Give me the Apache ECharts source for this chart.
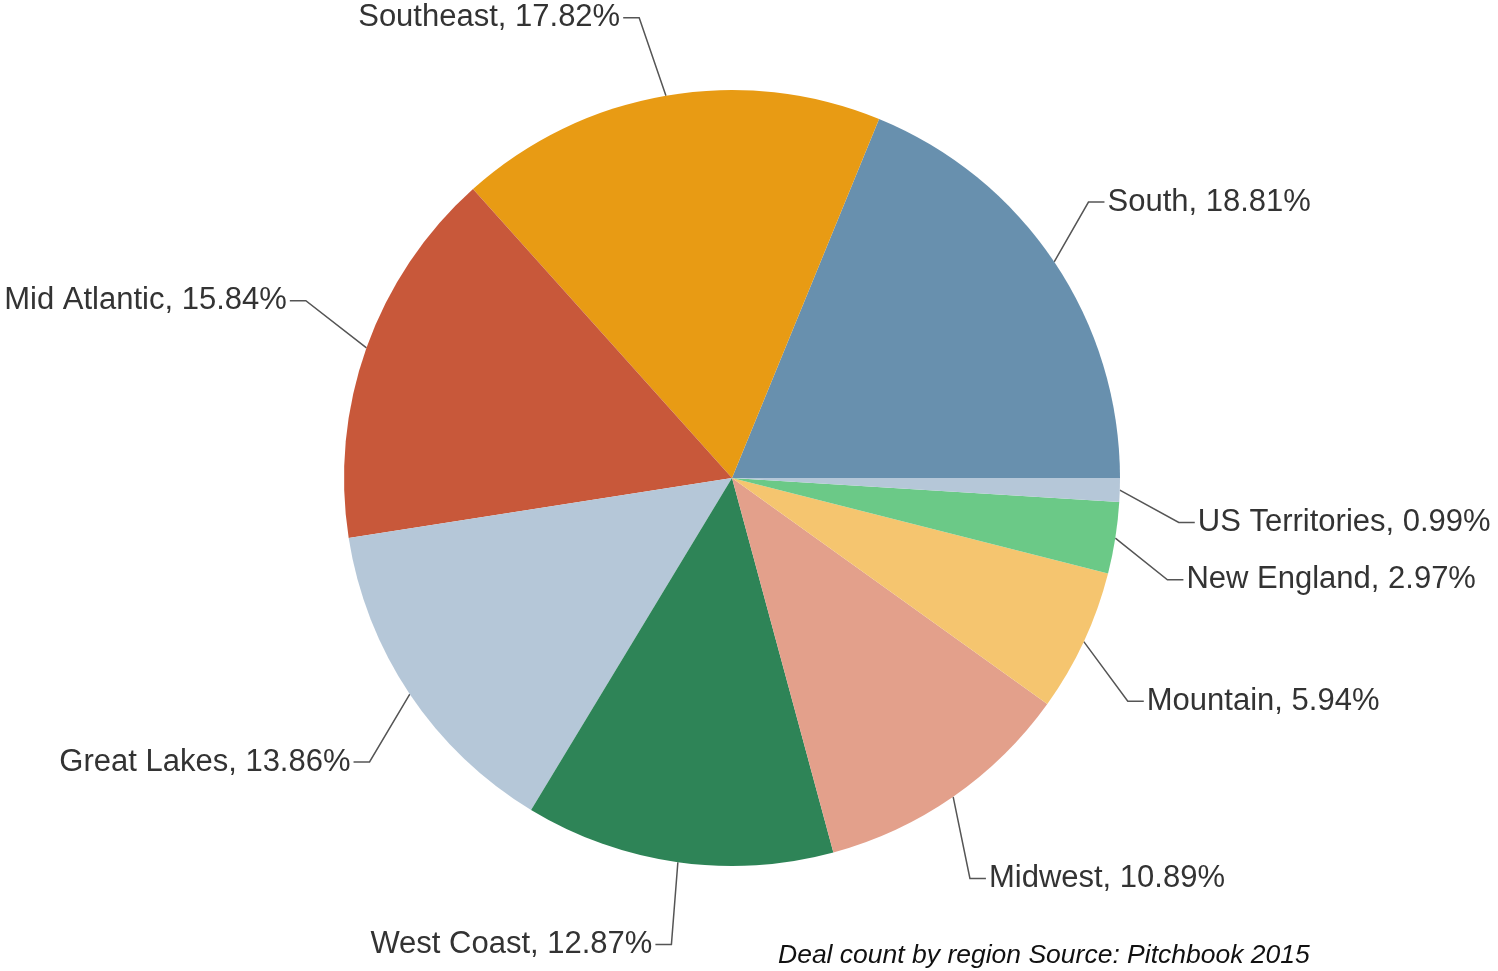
<!DOCTYPE html>
<html>
<head>
<meta charset="utf-8">
<script src="https://cdn.jsdelivr.net/npm/echarts@6/dist/echarts.min.js"></script>
<style>
    html, body { margin: 0; padding: 0; background: #fff; }
    #chart { width: 1498px; height: 971px; }
</style>
</head>
<body>
<div id="chart"></div>
<script>
// deal count share by region (%), counter-clockwise from 3 o'clock
const regions = ["South", "Southeast", "Mid Atlantic", "Great Lakes", "West Coast",
    "Midwest", "Mountain", "New England", "US Territories"];
const shares = [18.81, 17.82, 15.84, 13.86, 12.87, 10.89, 5.94, 2.97, 0.99];
const colors = ["#6890ae", "#e89b14", "#c8583a", "#b5c7d8", "#2e8457",
    "#e3a08b", "#f5c56f", "#6bc987", "#b5c7d8"];
const caption = "Deal count by region Source: Pitchbook 2015";

const chart = echarts.init(document.getElementById("chart"));

// small nudges so labels sit where the original spread them
const labelNudge = [[-28, -18], [-14, -4], [10, -22], [22, 26], [4, 8],
    [-26, 20], [-24, 28], [-22, 30], [-16, 30]];

let seriesData = regions.map((name, i) => {
    return {
        name: name,
        value: shares[i],
        itemStyle: { color: colors[i] }
    };
});

let options = {
    animation: false,
    graphic: [{
        type: "text",
        left: 778,
        top: 942,
        style: {
            text: caption,
            font: "italic 26.5px 'Liberation Sans', Arial, sans-serif",
            fill: "#111"
        }
    }],
    series: [{
        type: "pie",
        center: [732, 478],
        radius: 388,
        startAngle: 0,
        clockwise: false,
        avoidLabelOverlap: false,
        data: seriesData,
        itemStyle: { borderWidth: 0 },
        emphasis: { disabled: true },
        label: {
            show: true,
            formatter: function(p) {
                return p.name + ", " + p.value.toFixed(2) + "%";
            },
            fontFamily: "'Liberation Sans', Arial, sans-serif",
            fontSize: 31,
            color: "#333",
            overflow: "none",
            distanceToLabelLine: 3
        },
        labelLine: {
            show: true,
            length: 75,
            length2: 16,
            lineStyle: { color: "#555", width: 1.5 }
        },
        labelLayout: function(p) {
            let n = labelNudge[p.dataIndex];
            let r = p.labelRect;
            let start = p.labelLinePoints[0];
            let y = r.y + n[1] + r.height / 2;
            let endX, midX;
            if (p.align === "right") {
                endX = r.x + r.width + n[0] + 3;
                midX = endX + 16;
            } else {
                endX = r.x + n[0] - 3;
                midX = endX - 16;
            }
            return {
                dx: n[0],
                dy: n[1],
                labelLinePoints: [start, [midX, y], [endX, y]]
            };
        }
    }]
};
chart.setOption(options);
</script>
</body>
</html>
